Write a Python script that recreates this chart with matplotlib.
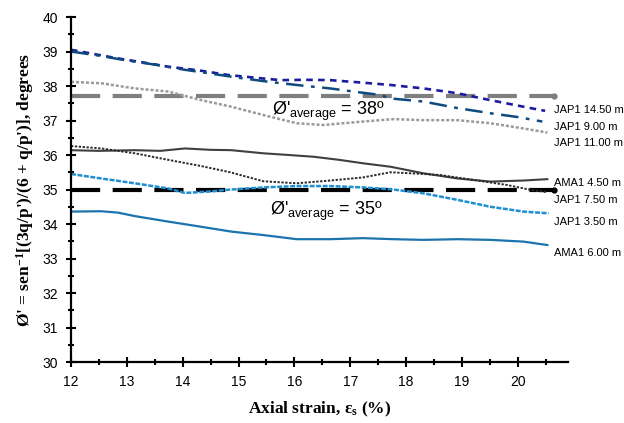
import matplotlib.pyplot as plt
from matplotlib.ticker import MultipleLocator

plt.rcParams['font.family'] = ['Liberation Sans', 'DejaVu Sans']
plt.rcParams['mathtext.default'] = 'regular'

# friction angle vs axial strain, read per test
strain_14_50 = [12.0, 12.5, 12.84, 13.3, 13.74, 14.3, 14.81, 15.3, 15.75, 16.2, 16.64, 17.2, 17.72, 18.31, 18.92, 19.51, 20.10, 20.49]
phi_14_50 = [39.05, 38.90, 38.80, 38.68, 38.56, 38.45, 38.32, 38.24, 38.17, 38.18, 38.17, 38.10, 38.03, 37.93, 37.79, 37.59, 37.40, 37.28]

strain_9_00 = [12.0, 12.5, 13.0, 13.5, 14.0, 14.5, 15.0, 15.5, 16.04, 16.64, 17.1, 17.54, 17.72, 18.31, 18.92, 19.51, 20.0, 20.44]
phi_9_00 = [39.0, 38.88, 38.74, 38.62, 38.48, 38.36, 38.24, 38.13, 38.03, 37.93, 37.83, 37.74, 37.64, 37.55, 37.36, 37.21, 37.10, 36.97]

strain_11_00 = [12.0, 12.54, 13.14, 13.74, 14.33, 14.87, 15.44, 16.04, 16.52, 17.23, 17.77, 18.31, 18.92, 19.51, 20.10, 20.53]
phi_11_00 = [38.12, 38.08, 37.93, 37.84, 37.59, 37.40, 37.16, 36.92, 36.87, 36.97, 37.04, 37.01, 37.01, 36.92, 36.77, 36.65]

strain_4_50 = [12.0, 12.5, 13.14, 13.6, 14.04, 14.5, 14.87, 15.44, 15.9, 16.34, 16.8, 17.23, 17.72, 18.31, 18.92, 19.51, 20.10, 20.53]
phi_4_50 = [36.14, 36.12, 36.14, 36.12, 36.19, 36.15, 36.14, 36.05, 36.00, 35.95, 35.86, 35.76, 35.66, 35.47, 35.32, 35.23, 35.26, 35.30]

strain_7_50 = [12.0, 12.54, 13.14, 13.74, 14.33, 14.85, 15.44, 16.04, 16.64, 17.23, 17.72, 18.2, 18.61, 19.2, 19.81, 20.23, 20.53]
phi_7_50 = [36.26, 36.19, 36.05, 35.86, 35.68, 35.50, 35.24, 35.18, 35.26, 35.35, 35.50, 35.46, 35.42, 35.28, 35.13, 34.99, 34.92]

strain_3_50 = [12.0, 12.54, 13.14, 13.74, 14.04, 14.46, 14.87, 15.44, 16.04, 16.64, 17.23, 17.77, 18.31, 18.92, 19.51, 20.10, 20.55]
phi_3_50 = [35.45, 35.32, 35.18, 35.03, 34.90, 34.94, 35.00, 35.06, 35.10, 35.10, 35.06, 35.00, 34.89, 34.70, 34.50, 34.36, 34.31]

strain_6_00 = [12.0, 12.54, 12.84, 13.14, 13.74, 14.33, 14.87, 15.44, 16.04, 16.64, 17.23, 17.77, 18.31, 18.92, 19.51, 20.10, 20.53]
phi_6_00 = [34.36, 34.37, 34.33, 34.23, 34.07, 33.92, 33.78, 33.68, 33.56, 33.56, 33.59, 33.56, 33.54, 33.56, 33.54, 33.49, 33.39]

series_labels = ['JAP1 14.50 m', 'JAP1 9.00 m', 'JAP1 11.00 m', 'AMA1 4.50 m',
                 'JAP1 7.50 m', 'JAP1 3.50 m', 'AMA1 6.00 m']
label_y = [37.30, 36.80, 36.36, 35.20, 34.70, 34.07, 33.17]

# average friction angle lines
avg_phi = [37.72, 35.0]
avg_span = [12.0, 20.64]

fig = plt.figure(figsize=(6.24, 4.23), dpi=100)
ax = fig.add_axes([0.1138, 0.1442, 0.7965, 0.8156])

ax.plot(avg_span, [avg_phi[0]] * 2, color='#7f7f7f', lw=3.0,
        linestyle=(0, (7, 3)), dash_capstyle='butt')
ax.plot(avg_span[1], avg_phi[0], 'o', color='#7f7f7f', ms=3.5, clip_on=False)
ax.plot(avg_span, [avg_phi[1]] * 2, color='black', lw=3.0,
        linestyle=(0, (7, 3)), dash_capstyle='butt')
ax.plot(avg_span[1], avg_phi[1], 'o', color='black', ms=3.5, clip_on=False)

ax.plot(strain_14_50, phi_14_50, color='#1c1ca0', lw=1.9, linestyle=(0, (2.5, 2)))
ax.plot(strain_9_00, phi_9_00, color='#0e4a7e', lw=1.8, linestyle=(0, (7, 3, 1.5, 3)))
ax.plot(strain_11_00, phi_11_00, color='#9a9a9a', lw=1.8, linestyle=(0, (1.2, 0.8)))
ax.plot(strain_4_50, phi_4_50, color='#404040', lw=1.5)
ax.plot(strain_7_50, phi_7_50, color='#2a2a2a', lw=1.4, linestyle=(0, (1.2, 0.8)))
ax.plot(strain_3_50, phi_3_50, color='#1e8fd0', lw=1.8, linestyle=(0, (2, 0.6)))
ax.plot(strain_6_00, phi_6_00, color='#1b74ad', lw=1.6)

# series names sit just past the curve ends
for name, yv in zip(series_labels, label_y):
    ax.text(20.64, yv, name, fontsize=8.0, va='center', ha='left', clip_on=False)

ax.text(15.60, 37.16, "Ø'$_{average}$ = %.0fº" % avg_phi[0], fontsize=13, va='baseline')
ax.text(15.57, 34.26, "Ø'$_{average}$ = %.0fº" % avg_phi[1], fontsize=13, va='baseline')

ax.set_xlim(12, 20.9)
ax.set_ylim(30, 40)
ax.xaxis.set_major_locator(MultipleLocator(1))
ax.xaxis.set_minor_locator(MultipleLocator(0.5))
ax.yaxis.set_major_locator(MultipleLocator(1))
ax.yaxis.set_minor_locator(MultipleLocator(0.5))
ax.set_xticks(range(12, 21))
ax.tick_params(which='major', direction='inout', length=7, width=1.5, labelsize=10, pad=6)
ax.tick_params(which='minor', direction='inout', length=4, width=1.5)

for side in ['top', 'right']:
    ax.spines[side].set_visible(False)
for side in ['left', 'bottom']:
    ax.spines[side].set_linewidth(1.6)

ax.set_xlabel('Axial strain, ε$_s$ (%)', family=['Liberation Serif'],
              fontsize=12.5, fontweight='bold')
ax.set_ylabel("Ø' = sen$^{−1}$[(3q/p')/(6 + q/p')], degrees", family=['Liberation Serif'],
              fontsize=12.5, fontweight='bold')
ax.xaxis.set_label_coords(0.5, -0.11)
ax.yaxis.set_label_coords(-0.07, 0.5)

fig.savefig('out.png', dpi=100)
